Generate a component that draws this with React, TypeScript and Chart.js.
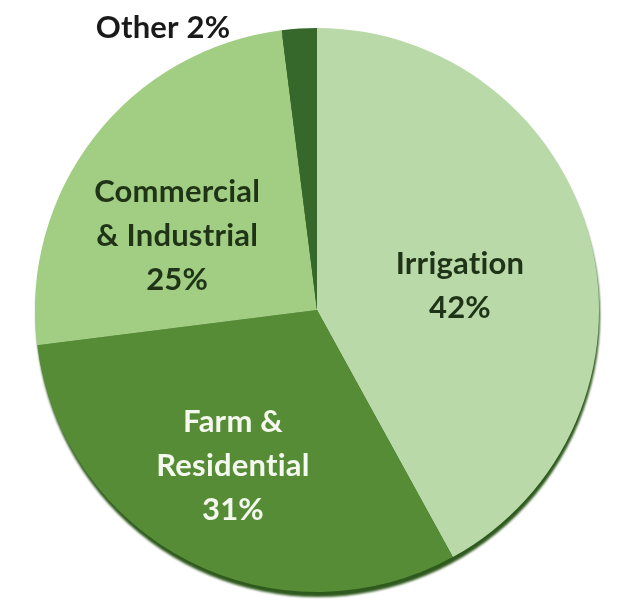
import React, { useEffect, useRef } from "react";
import { Chart, registerables } from "chart.js";

Chart.register(...registerables);

const categories = ["Irrigation", "Farm & Residential", "Commercial & Industrial", "Other"];
const shares = [42, 31, 25, 2];
const sliceColors = ["#b9daa8", "#568c36", "#a2ce84", "#35682a"];
const labelLines = [
  ["Irrigation", "42%"],
  ["Farm &", "Residential", "31%"],
  ["Commercial", "& Industrial", "25%"],
  ["Other 2%"],
];
const labelColors = ["#1f3317", "#f4f8ef", "#1f3317", "#1a1a1a"];

const shadowPlugin = {
  id: "pieShadow",
  beforeDatasetsDraw(chart: any) {
    const meta = chart.getDatasetMeta(0);
    const arc = meta.data[0];
    if (!arc) return;
    const ctx = chart.ctx;
    ctx.save();
    ctx.fillStyle = "#2f5a1e";
    ctx.filter = "blur(1.2px)";
    ctx.beginPath();
    ctx.arc(arc.x + 1, arc.y + 5, arc.outerRadius, 0, Math.PI * 2);
    ctx.fill();
    ctx.restore();
  },
};

// label anchors in units of the pie radius, relative to the pie centre
const labelPlugin = {
  id: "sliceLabels",
  afterDatasetsDraw(chart: any) {
    const meta = chart.getDatasetMeta(0);
    const ctx = chart.ctx;
    const place = [
      { fx: 0.507, fy: -0.085 },
      { fx: -0.298, fy: 0.553 },
      { fx: -0.496, fy: -0.262 },
      { fx: -0.546, fy: -1.0 },
    ];
    ctx.save();
    ctx.font = "bold 31px Lato";
    (ctx as any).letterSpacing = "0.2px";
    ctx.textAlign = "center";
    ctx.textBaseline = "middle";
    meta.data.forEach((arc: any, i: number) => {
      const r = arc.outerRadius;
      const cx = arc.x + place[i].fx * r;
      const cy = arc.y + place[i].fy * r;
      const lines = labelLines[i];
      const lh = 44;
      ctx.fillStyle = labelColors[i];
      lines.forEach((t, k) => {
        ctx.fillText(t, cx, cy + (k - (lines.length - 1) / 2) * lh);
      });
    });
    ctx.restore();
  },
};

export default function App() {
  const ref = useRef<HTMLCanvasElement | null>(null);
  useEffect(() => {
    document.body.style.margin = "0";
    const chart = new Chart(ref.current!, {
      type: "pie",
      data: {
        labels: categories,
        datasets: [
          {
            data: shares,
            backgroundColor: sliceColors,
            borderWidth: 0,
          },
        ],
      },
      options: {
        animation: false,
        responsive: true,
        maintainAspectRatio: false,
        layout: { padding: { left: 35, right: 29, top: 28, bottom: 9 } },
        plugins: {
          legend: { display: false },
          tooltip: { enabled: false },
          title: { display: false },
        },
      },
      plugins: [shadowPlugin, labelPlugin],
    });
    return () => chart.destroy();
  }, []);
  return (
    <div style={{ width: 628, height: 601, position: "relative", background: "#fff" }}>
      <canvas ref={ref} />
    </div>
  );
}
